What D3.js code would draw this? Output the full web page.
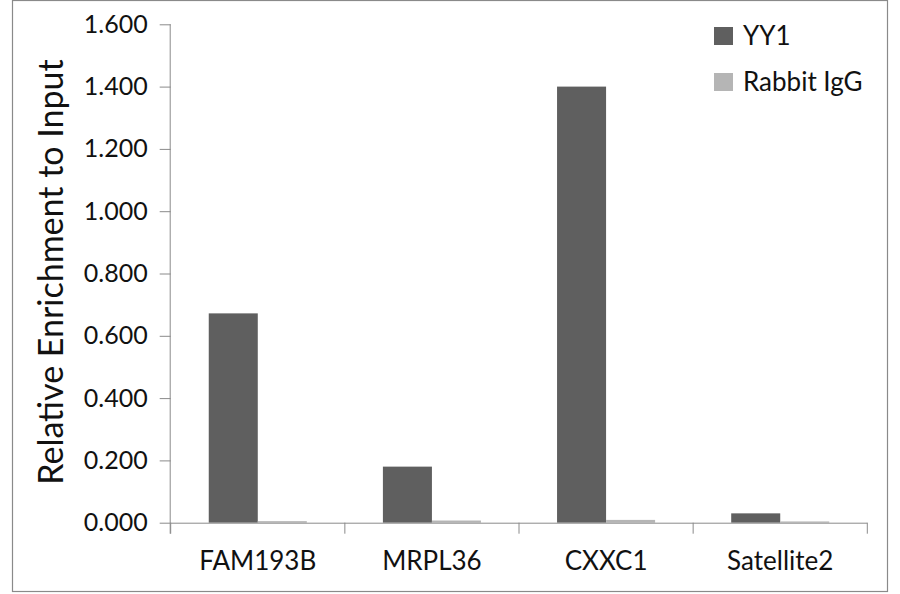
<!DOCTYPE html>
<html>
<head>
<meta charset="utf-8">
<script src="https://cdn.jsdelivr.net/npm/d3@7"></script>
<style>
  body { margin: 0; background: #fff; }
  svg text { font-family: Lato, "Noto Sans", sans-serif; fill: #111; }
</style>
</head>
<body>
<svg id="chart" width="900" height="594"></svg>
<script>
// Chart values.
const categories = ['FAM193B', 'MRPL36', 'CXXC1', 'Satellite2'];
const seriesNames = ['YY1', 'Rabbit IgG'];
const yy1Values = [0.672, 0.180, 1.400, 0.030];
const iggValues = [0.005, 0.007, 0.009, 0.004];
const yTicks = [0, 0.2, 0.4, 0.6, 0.8, 1.0, 1.2, 1.4, 1.6];
const seriesColors = ['#5f5f5f', '#b5b5b5'];

const svg = d3.select('#chart');

const margin = { left: 170.7, right: 867.3, top: 24.3, bottom: 522.7 };

// Outer frame.
svg.append('rect')
  .attr('x', 12.5)
  .attr('y', 0.5)
  .attr('width', 875)
  .attr('height', 591)
  .attr('fill', 'none')
  .attr('stroke', '#8a8a8a')
  .attr('stroke-width', 1.2);

let x = d3.scaleBand()
  .domain(categories)
  .range([margin.left, margin.right])
  .paddingInner(0.437)
  .paddingOuter(0.437 / 2);

let xSeries = d3.scaleBand()
  .domain(seriesNames)
  .range([0, x.bandwidth()])
  .padding(0);

let y = d3.scaleLinear()
  .domain([0, 1.6])
  .range([margin.bottom, margin.top]);

let rows = categories.map((c, i) => ({
  category: c,
  values: [yy1Values[i], iggValues[i]]
}));

// Bars.
let groups = svg.append('g')
  .selectAll('g.group')
  .data(rows)
  .enter()
  .append('g')
    .attr('transform', d => `translate(${x(d.category)},0)`);

groups.selectAll('rect')
  .data(d => d.values.map((v, i) => ({ name: seriesNames[i], value: v, i: i })))
  .enter()
  .append('rect')
    .attr('x', d => xSeries(d.name))
    .attr('width', xSeries.bandwidth())
    .attr('y', d => y(d.value))
    .attr('height', d => y(0) - y(d.value))
    .attr('fill', d => seriesColors[d.i]);

// Y axis.
let yAxis = svg.append('g')
  .attr('transform', `translate(${margin.left},0)`)
  .call(d3.axisLeft(y)
    .tickValues(yTicks)
    .tickFormat(d3.format('.3f'))
    .tickSize(11)
    .tickPadding(12));

yAxis.select('.domain')
  .attr('d', `M-0.5,${margin.top}V${margin.bottom + 11}`);

// X axis: ticks on category boundaries.
let boundaries = categories.map(c => x(c) - x.step() * 0.437 / 2)
  .concat([margin.right]);

let xAxis = svg.append('g')
  .attr('transform', `translate(0,${margin.bottom})`);

xAxis.append('path')
  .attr('d', `M${margin.left},0.5H${margin.right}`)
  .attr('stroke', '#8a8a8a')
  .attr('fill', 'none');

xAxis.selectAll('line.tick')
  .data(boundaries)
  .enter()
  .append('line')
    .attr('x1', d => d)
    .attr('x2', d => d)
    .attr('y1', 0)
    .attr('y2', 11)
    .attr('stroke', '#8a8a8a');

xAxis.selectAll('text.label')
  .data(categories)
  .enter()
  .append('text')
    .attr('x', c => x(c) + x.bandwidth() / 2)
    .attr('y', 47)
    .attr('text-anchor', 'middle')
    .style('font-size', '26px')
    .text(c => c);

yAxis.selectAll('line, path').attr('stroke', '#8a8a8a');
yAxis.selectAll('text').style('font-size', '25px').attr('fill', '#111');

// Y axis title.
svg.append('text')
  .attr('transform', `translate(63,272) rotate(-90)`)
  .attr('text-anchor', 'middle')
  .style('font-size', '34px')
  .text('Relative Enrichment to Input');

// Legend.
let legend = svg.append('g')
  .selectAll('g.legend')
  .data(seriesNames)
  .enter()
  .append('g')
    .attr('transform', (d, i) => `translate(714,${27 + i * 46})`);

legend.append('rect')
  .attr('width', 19)
  .attr('height', 18)
  .attr('fill', (d, i) => seriesColors[i]);

legend.append('text')
  .attr('x', 29)
  .attr('y', 18)
  .style('font-size', '26px')
  .text(d => d);
</script>
</body>
</html>
